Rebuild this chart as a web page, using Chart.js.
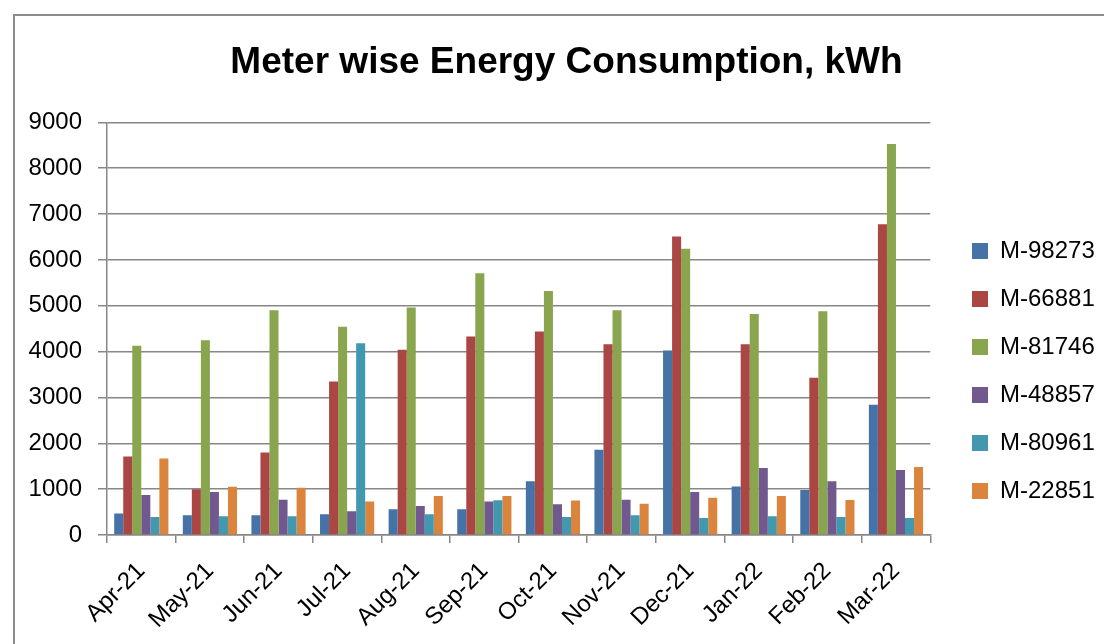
<!DOCTYPE html>
<html>
<head>
<meta charset="utf-8">
<script src="https://cdn.jsdelivr.net/npm/chart.js@4.4.1/dist/chart.umd.min.js"></script>
<style>
html,body{margin:0;padding:0;background:#fff;overflow:hidden}
#wrap{position:relative;width:1104px;height:644px}
</style>
</head>
<body>
<div id="wrap"><canvas id="c" width="1104" height="644"></canvas></div>
<script>
const titleText = 'Meter wise Energy Consumption, kWh';
const categories = ['Apr-21','May-21','Jun-21','Jul-21','Aug-21','Sep-21','Oct-21','Nov-21','Dec-21','Jan-22','Feb-22','Mar-22'];
const seriesNames = ['M-98273','M-66881','M-81746','M-48857','M-80961','M-22851'];
const m98273 = [470, 430, 430, 450, 560, 560, 1170, 1860, 4025, 1060, 980, 2840];
const m66881 = [1710, 1000, 1800, 3350, 4040, 4330, 4440, 4160, 6510, 4160, 3430, 6780];
const m81746 = [4130, 4250, 4900, 4540, 4960, 5710, 5320, 4900, 6245, 4820, 4880, 8530];
const m48857 = [870, 940, 770, 520, 630, 730, 670, 770, 940, 1460, 1170, 1420];
const m80961 = [390, 410, 410, 4185, 450, 760, 390, 430, 370, 410, 390, 370];
const m22851 = [1670, 1050, 1030, 730, 850, 850, 750, 680, 810, 850, 765, 1485];
const yTickValues = [0, 1000, 2000, 3000, 4000, 5000, 6000, 7000, 8000, 9000];
const yTickLabels = ['0', '1000', '2000', '3000', '4000', '5000', '6000', '7000', '8000', '9000'];

const seriesValues = [m98273, m66881, m81746, m48857, m80961, m22851];
const seriesColors = ['#4572A7', '#AA4643', '#89A54E', '#71588F', '#4198AF', '#DB843D'];

const FONT = '"Liberation Sans", Arial, sans-serif';
const GRID = '#878787';
const PAD_LEFT = 0;
const PAD_RIGHT = 17;

const frame = {
  id: 'frame',
  beforeDraw(chart) {
    const ctx = chart.ctx;
    ctx.save();
    ctx.fillStyle = '#ffffff';
    ctx.fillRect(0, 0, chart.width, chart.height);
    ctx.strokeStyle = '#8c8c8c';
    ctx.lineWidth = 2;
    ctx.beginPath();
    ctx.moveTo(14, chart.height + 5);
    ctx.lineTo(14, 15);
    ctx.lineTo(chart.width + 5, 15);
    ctx.stroke();
    ctx.restore();
  }
};

const placeBoxes = {
  id: 'placeBoxes',
  afterLayout(chart) {
    const l = chart.legend;
    if (l) {
      const w = l.width, h = l.height;
      l.left = 948; l.right = l.left + w;
      l.top = 215; l.bottom = l.top + h;
    }
    const t = chart.titleBlock;
    if (t) {
      const w = t.right - t.left;
      const cx = 566.5;
      t.left = cx - w / 2; t.right = cx + w / 2;
    }
  }
};

new Chart(document.getElementById('c'), {
  type: 'bar',
  data: {
    labels: categories,
    datasets: seriesNames.map((name, i) => ({
      label: name,
      data: seriesValues[i],
      backgroundColor: seriesColors[i],
      borderWidth: 0,
      barPercentage: 1.0,
      categoryPercentage: 0.79
    }))
  },
  options: {
    responsive: false,
    animation: false,
    devicePixelRatio: 1,
    layout: { padding: { left: PAD_LEFT, right: PAD_RIGHT, top: 0, bottom: 0 } },
    plugins: {
      title: {
        display: true,
        text: titleText,
        color: '#000',
        font: { family: FONT, size: 37, weight: 'bold' },
        padding: { top: 41, bottom: 37 }
      },
      legend: {
        display: true,
        position: 'right',
        align: 'start',
        labels: {
          color: '#000',
          font: { family: FONT, size: 24 },
          boxWidth: 16,
          boxHeight: 16,
          padding: 24
        }
      },
      tooltip: { enabled: false }
    },
    scales: {
      x: {
        grid: { display: true, offset: true, drawOnChartArea: false, drawTicks: true, tickLength: 8, color: GRID, lineWidth: 1.5 },
        border: { display: true, color: GRID, width: 1.5 },
        ticks: { color: '#000', font: { family: FONT, size: 24 }, minRotation: 45, maxRotation: 45, autoSkip: false, padding: 14 },
        afterFit(scale) { scale.height = 109; }
      },
      y: {
        min: 0,
        max: 9000,
        afterBuildTicks(scale) { scale.ticks = yTickValues.map(v => ({ value: v })); },
        grid: { color: GRID, lineWidth: 1.5, drawTicks: true, tickLength: 9 },
        border: { display: true, color: GRID, width: 1.5 },
        ticks: {
          color: '#000',
          font: { family: FONT, size: 24 },
          padding: 16,
          callback: (v) => { const i = yTickValues.indexOf(v); return i >= 0 ? yTickLabels[i] : String(v); }
        },
        afterFit(scale) { scale.width = 107 - PAD_LEFT; }
      }
    }
  },
  plugins: [frame, placeBoxes]
});
</script>
</body>
</html>
